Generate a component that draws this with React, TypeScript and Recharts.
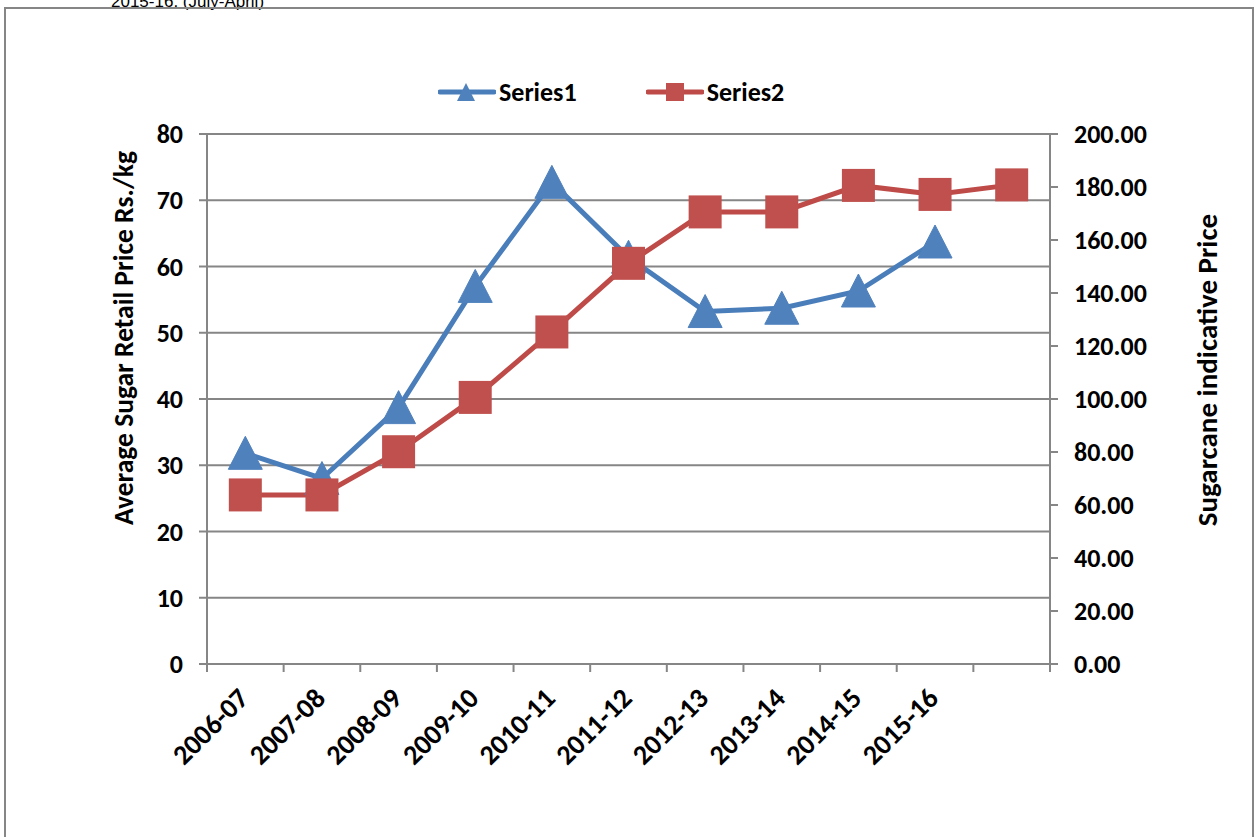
import React from "react";
import {
  LineChart,
  Line,
  XAxis,
  YAxis,
  CartesianGrid,
  Legend,
} from "recharts";

const years = [
  "2006-07",
  "2007-08",
  "2008-09",
  "2009-10",
  "2010-11",
  "2011-12",
  "2012-13",
  "2013-14",
  "2014-15",
  "2015-16",
  "",
];

// average sugar retail price, Rs./kg (left axis)
const series1: (number | null)[] = [31.8, 28.0, 38.7, 57.0, 72.7, 61.4, 53.2, 53.7, 56.3, 63.7, null];
// sugarcane indicative price (right axis)
const series2: number[] = [63.8, 63.8, 80.1, 100.6, 125.3, 151.2, 170.6, 170.6, 180.6, 177.2, 180.8];

const leftTicks = [0, 10, 20, 30, 40, 50, 60, 70, 80];
const rightTicks = [0, 20, 40, 60, 80, 100, 120, 140, 160, 180, 200];

const data = years.map((year, i) => ({
  year,
  s1: series1[i],
  s2: series2[i],
}));

const W = 1259;
const H = 837;
const MARGIN = { top: 134, right: 59, bottom: 73, left: 147 };
const LEFT_AXIS_W = 60;
const RIGHT_AXIS_W = 150;
const X_AXIS_H = 100;
const PLOT_LEFT = MARGIN.left + LEFT_AXIS_W;
const PLOT_RIGHT = W - MARGIN.right - RIGHT_AXIS_W;
const PLOT_BOTTOM = H - MARGIN.bottom - X_AXIS_H;
const HALF_BAND = (PLOT_RIGHT - PLOT_LEFT) / years.length / 2;

const BLUE_LINE = "#4A7EBB";
const BLUE = "#4F81BD";
const RED_LINE = "#BE4B48";
const RED = "#C0504D";
const AXIS = "#868686";
const FONT = "Carlito, Lato, 'Open Sans', sans-serif";
const TICK_FONT = { fontFamily: FONT, fontWeight: "bold", fontSize: 26, fill: "#000" };

function Triangle(props: any) {
  const { cx, cy, index } = props;
  if (cx == null || cy == null || props.value == null) return <g key={`t-${index}`} />;
  return (
    <path
      key={`t-${index}`}
      d={`M${cx},${cy - 17} L${cx + 17},${cy + 16} L${cx - 17},${cy + 16} Z`}
      fill={BLUE}
      stroke={BLUE}
    />
  );
}

function Square(props: any) {
  const { cx, cy, index } = props;
  if (cx == null || cy == null) return <g key={`s-${index}`} />;
  return <rect key={`s-${index}`} x={cx - 16.5} y={cy - 16.5} width={33} height={33} fill={RED} />;
}

// category labels sit at band centres; tick marks sit on band edges
function YearTick(props: any) {
  const { x, payload, index } = props;
  const last = index === years.length - 1;
  const tx = x + 5;
  const ty = PLOT_BOTTOM + 36;
  return (
    <g>
      <line x1={x - HALF_BAND} x2={x - HALF_BAND} y1={PLOT_BOTTOM} y2={PLOT_BOTTOM + 8} stroke={AXIS} strokeWidth={2} />
      {last && (
        <line x1={x + HALF_BAND} x2={x + HALF_BAND} y1={PLOT_BOTTOM} y2={PLOT_BOTTOM + 8} stroke={AXIS} strokeWidth={2} />
      )}
      {payload.value && (
        <text
          x={tx}
          y={ty}
          transform={`rotate(-45 ${tx} ${ty})`}
          textAnchor="end"
          {...TICK_FONT}
          fontSize={28}
        >
          {payload.value}
        </text>
      )}
    </g>
  );
}

function LegendContent() {
  const items = [
    { name: "Series1", color: BLUE_LINE, marker: "tri" },
    { name: "Series2", color: RED_LINE, marker: "sq" },
  ];
  return (
    <div style={{ display: "flex", alignItems: "center", gap: 69 }}>
      {items.map((it) => (
        <div key={it.name} style={{ display: "flex", alignItems: "center" }}>
          <svg width={58} height={26}>
            <line x1={2} x2={56} y1={13} y2={13} stroke={it.color} strokeWidth={5} strokeLinecap="round" />
            {it.marker === "tri" ? (
              <path d="M28,4 L37,22 L19,22 Z" fill={BLUE} />
            ) : (
              <rect x={20} y={4} width={18} height={18} fill={RED} />
            )}
          </svg>
          <span
            style={{
              fontFamily: FONT,
              fontWeight: "bold",
              fontSize: 26,
              lineHeight: "30px",
              color: "#000",
              marginLeft: 3,
            }}
          >
            {it.name}
          </span>
        </div>
      ))}
    </div>
  );
}

function AxisTitle({ x, y, size, text }: { x: number; y: number; size: number; text: string }) {
  return (
    <text
      x={x}
      y={y}
      transform={`rotate(-90 ${x} ${y})`}
      textAnchor="middle"
      dominantBaseline="central"
      fontFamily={FONT}
      fontWeight="bold"
      fontSize={size}
      fill="#000"
    >
      {text}
    </text>
  );
}

export default function App() {
  return (
    <div style={{ position: "absolute", left: 0, top: 0, width: W, height: H, background: "#fff", overflow: "hidden" }}>
      <div
        style={{
          position: "absolute",
          left: 111,
          top: -7,
          fontFamily: "'Liberation Sans', Arial, sans-serif",
          fontSize: 17,
          lineHeight: "17px",
          color: "#000",
          whiteSpace: "nowrap",
        }}
      >
        2015-16. (July-April)
      </div>
      <div
        style={{
          position: "absolute",
          left: 4,
          top: 7,
          width: 1250,
          height: 850,
          border: `2px solid ${AXIS}`,
          boxSizing: "border-box",
        }}
      />
      <div style={{ position: "absolute", left: 0, top: 0 }}>
        <LineChart width={W} height={H} data={data} margin={MARGIN}>
          <CartesianGrid yAxisId="left" vertical={false} stroke={AXIS} strokeWidth={2} />
          <XAxis
            dataKey="year"
            interval={0}
            height={X_AXIS_H}
            padding={{ left: HALF_BAND, right: HALF_BAND }}
            tickLine={false}
            axisLine={{ stroke: AXIS, strokeWidth: 2 }}
            tick={<YearTick />}
          />
          <YAxis
            yAxisId="left"
            width={LEFT_AXIS_W}
            domain={[0, 80]}
            ticks={leftTicks}
            tickSize={8}
            tickMargin={16}
            tickLine={{ stroke: AXIS, strokeWidth: 2 }}
            axisLine={{ stroke: AXIS, strokeWidth: 2 }}
            tick={TICK_FONT}
            label={{
              content: () => <AxisTitle x={123} y={338} size={27.5} text="Average Sugar Retail Price Rs./kg" />,
            }}
          />
          <YAxis
            yAxisId="right"
            orientation="right"
            width={RIGHT_AXIS_W}
            domain={[0, 200]}
            ticks={rightTicks}
            tickFormatter={(v: number) => v.toFixed(2)}
            tickSize={8}
            tickMargin={16}
            tickLine={{ stroke: AXIS, strokeWidth: 2 }}
            axisLine={{ stroke: AXIS, strokeWidth: 2 }}
            tick={TICK_FONT}
            label={{ content: () => <AxisTitle x={1207} y={370} size={29} text="Sugarcane indicative Price" /> }}
          />
          <Legend
            layout="horizontal"
            verticalAlign="middle"
            align="center"
            content={<LegendContent />}
            wrapperStyle={{ top: 77, left: 438, width: "auto" }}
          />
          <Line
            yAxisId="left"
            dataKey="s1"
            name="Series1"
            stroke={BLUE_LINE}
            strokeWidth={5}
            dot={Triangle}
            activeDot={false}
            isAnimationActive={false}
          />
          <Line
            yAxisId="right"
            dataKey="s2"
            name="Series2"
            stroke={RED_LINE}
            strokeWidth={5}
            dot={Square}
            activeDot={false}
            isAnimationActive={false}
          />
        </LineChart>
      </div>
    </div>
  );
}
